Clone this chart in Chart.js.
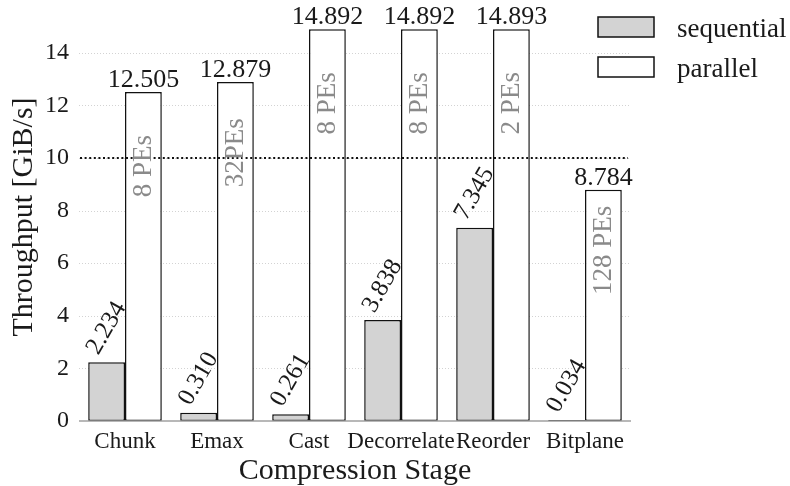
<!DOCTYPE html>
<html>
<head>
<meta charset="utf-8">
<script src="https://cdn.jsdelivr.net/npm/chart.js@4/dist/chart.umd.min.js"></script>
<style>
  html, body { margin: 0; padding: 0; background: #ffffff; }
  #wrap { width: 790px; height: 486px; position: relative; }
</style>
</head>
<body>
<div id="wrap"><canvas id="chart" width="790" height="486"></canvas></div>
<script>
// Throughput of each compression stage, sequential vs. parallel
const stages = ['Chunk', 'Emax', 'Cast', 'Decorrelate', 'Reorder', 'Bitplane'];
const sequential = [2.234, 0.310, 0.261, 3.838, 7.345, 0.034];
const parallel = [12.505, 12.879, 14.892, 14.892, 14.893, 8.784];
const peLabels = ['8 PEs', '32PEs', '8 PEs', '8 PEs', '2 PEs', '128 PEs'];
const yTicks = [0, 2, 4, 6, 8, 10, 12, 14];
const targetRate = 10;

const SERIF = '"Liberation Serif", "Times New Roman", Times, serif';
const INK = '#1a1a1a';

function serif(px) { return px + 'px ' + SERIF; }

const annotations = {
  id: 'annotations',
  beforeDatasetsDraw(chart) {
    const { ctx, chartArea: a, scales: { y } } = chart;
    ctx.save();
    ctx.strokeStyle = '#c8c8c8';
    ctx.lineWidth = 0.8;
    ctx.setLineDash([1, 2]);
    yTicks.forEach(v => {
      if (v === 0) return;
      const py = Math.round(y.getPixelForValue(v)) + 0.5;
      ctx.beginPath();
      ctx.moveTo(a.left, py);
      ctx.lineTo(a.right, py);
      ctx.stroke();
    });
    ctx.restore();
  },
  afterDatasetsDraw(chart) {
    const { ctx, chartArea: a, scales: { y } } = chart;
    const seqMeta = chart.getDatasetMeta(0);
    const parMeta = chart.getDatasetMeta(1);

    // horizontal axis line
    ctx.save();
    ctx.strokeStyle = '#a0a0a0';
    ctx.lineWidth = 1.6;
    ctx.beginPath();
    ctx.moveTo(a.left, y.getPixelForValue(0));
    ctx.lineTo(a.right, y.getPixelForValue(0));
    ctx.stroke();

    // target throughput line
    const ty = y.getPixelForValue(targetRate);
    ctx.strokeStyle = '#111111';
    ctx.lineWidth = 2;
    ctx.setLineDash([2, 2.6]);
    ctx.beginPath();
    ctx.moveTo(a.left + 1, ty);
    ctx.lineTo(a.right - 3, ty);
    ctx.stroke();
    ctx.setLineDash([]);

    // values above parallel bars
    ctx.fillStyle = INK;
    ctx.font = serif(26);
    ctx.textAlign = 'center';
    ctx.textBaseline = 'alphabetic';
    parMeta.data.forEach((bar, i) => {
      ctx.fillText(parallel[i].toFixed(3), bar.x, bar.y - 5);
    });

    // rotated values above sequential bars
    ctx.font = serif(25);
    ctx.textBaseline = 'middle';
    seqMeta.data.forEach((bar, i) => {
      ctx.save();
      ctx.translate(bar.x, bar.y - 34);
      ctx.rotate(-Math.PI / 3);
      ctx.fillText(sequential[i].toFixed(3), 0, 0);
      ctx.restore();
    });

    // PE count inside parallel bars
    ctx.fillStyle = '#8a8a8a';
    ctx.font = serif(27);
    ctx.textAlign = 'left';
    ctx.textBaseline = 'middle';
    parMeta.data.forEach((bar, i) => {
      ctx.save();
      ctx.translate(bar.x + 1, y.getPixelForValue(parallel[i] - 4));
      ctx.rotate(-Math.PI / 2);
      ctx.fillText(peLabels[i], 0, 0);
      ctx.restore();
    });
    ctx.restore();
  },
  afterDraw(chart) {
    const { ctx, chartArea: a } = chart;
    ctx.save();
    ctx.fillStyle = INK;

    // axis titles
    ctx.font = serif(30);
    ctx.textAlign = 'center';
    ctx.textBaseline = 'alphabetic';
    ctx.fillText('Compression Stage', (a.left + a.right) / 2, 479);
    ctx.save();
    ctx.translate(24, 217);
    ctx.rotate(-Math.PI / 2);
    ctx.textBaseline = 'middle';
    ctx.fillText('Throughput [GiB/s]', 0, 0);
    ctx.restore();

    // legend
    const entries = [
      { label: 'sequential', fill: '#d3d3d3', top: 17 },
      { label: 'parallel', fill: '#ffffff', top: 57 }
    ];
    ctx.font = serif(27);
    ctx.textAlign = 'left';
    ctx.textBaseline = 'alphabetic';
    entries.forEach(e => {
      ctx.fillStyle = e.fill;
      ctx.fillRect(598, e.top, 56, 20);
      ctx.strokeStyle = '#111111';
      ctx.lineWidth = 1.5;
      ctx.strokeRect(598, e.top, 56, 20);
      ctx.fillStyle = INK;
      ctx.fillText(e.label, 677, e.top + 20);
    });
    ctx.restore();
  }
};

function noEdgePadding(scale) {
  scale.paddingTop = 0;
  scale.paddingBottom = 0;
  scale.paddingLeft = 0;
  scale.paddingRight = 0;
}

new Chart(document.getElementById('chart'), {
  type: 'bar',
  data: {
    labels: stages,
    datasets: [
      {
        label: 'sequential',
        data: sequential,
        backgroundColor: '#d3d3d3',
        borderColor: '#111111',
        borderWidth: 1.5,
        borderSkipped: false,
        categoryPercentage: 0.8,
        barPercentage: 1.0
      },
      {
        label: 'parallel',
        data: parallel,
        backgroundColor: '#ffffff',
        borderColor: '#111111',
        borderWidth: 1.5,
        borderSkipped: false,
        categoryPercentage: 0.8,
        barPercentage: 1.0
      }
    ]
  },
  options: {
    responsive: false,
    devicePixelRatio: 1,
    animation: false,
    layout: { padding: { left: 0, right: 159, top: 0, bottom: 0 } },
    plugins: {
      legend: { display: false },
      tooltip: { enabled: false }
    },
    scales: {
      x: {
        grid: { display: false, drawTicks: false },
        border: { display: false },
        ticks: {
          font: { family: SERIF, size: 23 },
          color: INK,
          padding: 7,
          maxRotation: 0,
          autoSkip: false
        },
        afterFit(scale) { scale.height = 65; noEdgePadding(scale); }
      },
      y: {
        min: 0,
        max: 16,
        grid: { display: false, drawTicks: false },
        border: { display: false },
        ticks: {
          font: { family: SERIF, size: 24 },
          color: INK,
          padding: 10
        },
        afterBuildTicks(scale) {
          scale.ticks = yTicks.map(v => ({ value: v }));
        },
        afterFit(scale) { scale.width = 79; noEdgePadding(scale); }
      }
    }
  },
  plugins: [annotations]
});
</script>
</body>
</html>
